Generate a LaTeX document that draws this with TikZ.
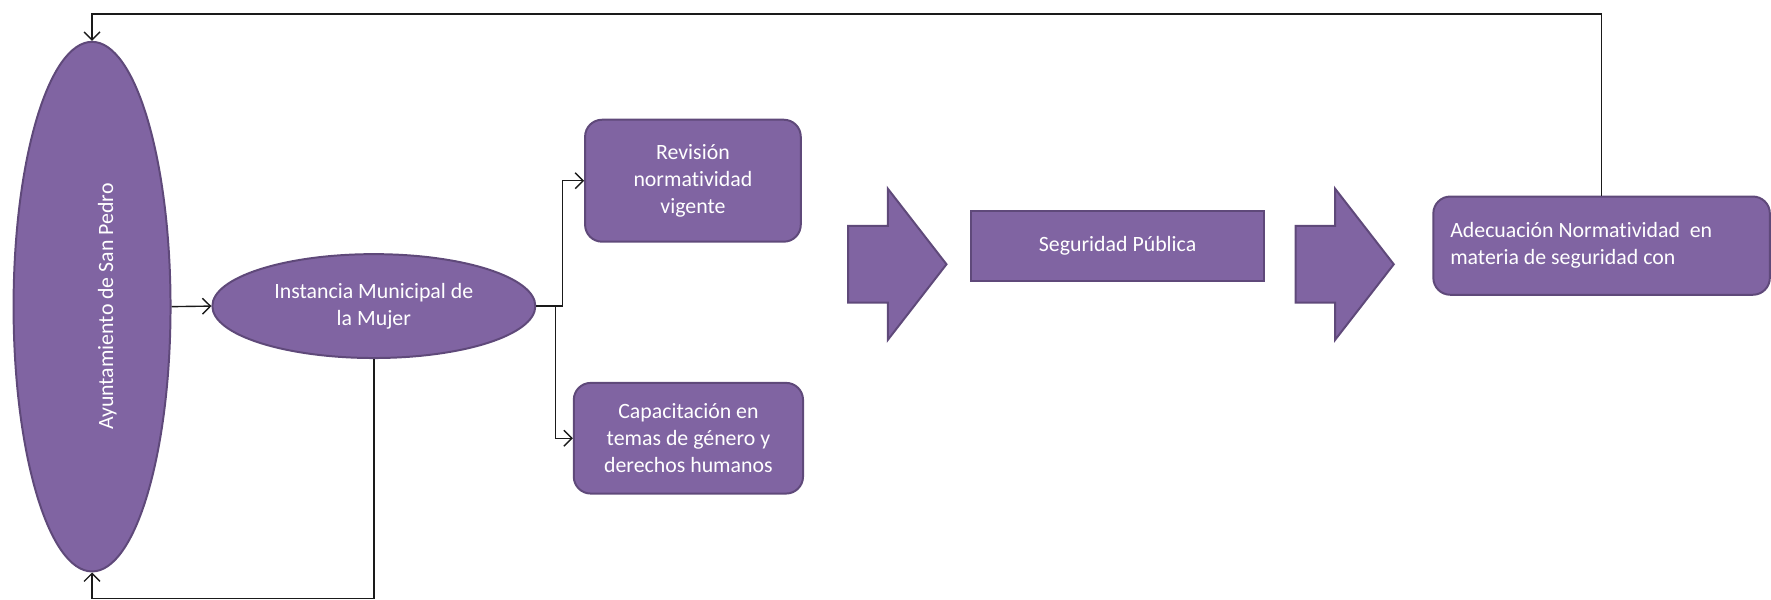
\documentclass[tikz,border=0pt]{standalone}
\usepackage{fontspec}
\setmainfont{Carlito}[Ligatures=NoCommon]
\usetikzlibrary{shapes.geometric,arrows.meta,calc}
\definecolor{pfill}{HTML}{8064A2}
\definecolor{pdraw}{HTML}{5F497A}
\definecolor{lcol}{HTML}{1A1A1A}
\begin{document}
\begin{tikzpicture}[x=0.02cm,y=-0.02cm,
  every node/.style={font=\fontsize{11pt}{13.6pt}\selectfont, text=white},
  shapebox/.style={fill=pfill, draw=pdraw, line width=1pt},
  rbox/.style={shapebox, rectangle, rounded corners=0.3cm, align=center, inner sep=0pt},
  ell/.style={shapebox, ellipse, inner sep=0pt, align=center},
  conn/.style={draw=lcol, line width=0.7pt},
  arr/.style={conn, -{Straight Barb[length=4pt,width=8pt]}},
  blockarrow/.style={shapebox, line join=miter}]
\useasboundingbox (0,0) rectangle (1568,531.2);
% nodes
\node[ell, minimum width=2.78cm, minimum height=9.38cm] (A) at (81.5,271.5) {};
\node[rotate=90] (Atext) at (95,271.5) {Ayuntamiento de San Pedro};
\node[ell, minimum width=5.72cm, minimum height=1.84cm] (B) at (331,271) {Instancia Municipal de\\la Mujer};
\node[rbox, minimum width=3.82cm, minimum height=2.16cm] (C) at (613.5,160) {Revisión\\normatividad\\vigente};
\node[rbox, minimum width=4.06cm, minimum height=1.96cm] (D) at (609.5,388) {Capacitación en\\temas de género y\\derechos humanos};
\node[shapebox, rectangle, minimum width=5.18cm, minimum height=1.24cm, inner sep=0pt] (E) at (989.5,218) {Seguridad Pública};
\node[rbox, minimum width=5.96cm, minimum height=1.74cm, text width=5.36cm, align=flush left, inner xsep=0.3cm] (F) at (1418,217.5) {Adecuación Normatividad~ en\\materia de seguridad con};
% block arrows
\path[blockarrow] (751,200) -- (786,200) -- (786,167) -- (838,234) -- (786,301) -- (786,268) -- (751,268) -- cycle;
\path[blockarrow] (1147,200) -- (1182,200) -- (1182,167) -- (1234,234) -- (1182,301) -- (1182,268) -- (1147,268) -- cycle;
% connectors
\coordinate (topy) at (0,12.5);
\coordinate (boty) at (0,530);
\draw[arr] (F.north) -- (F.north |- topy) -| (A.north);
\draw[arr] (B.south) -- (B.south |- boty) -| (A.south);
\draw[arr] (A.east) -- (B.west);
\draw[arr] (B.east) -- ([xshift=0.46cm]B.east) |- (C.west);
\draw[arr] (B.east) -- ([xshift=0.34cm]B.east) |- (D.west);
\end{tikzpicture}
\end{document}
